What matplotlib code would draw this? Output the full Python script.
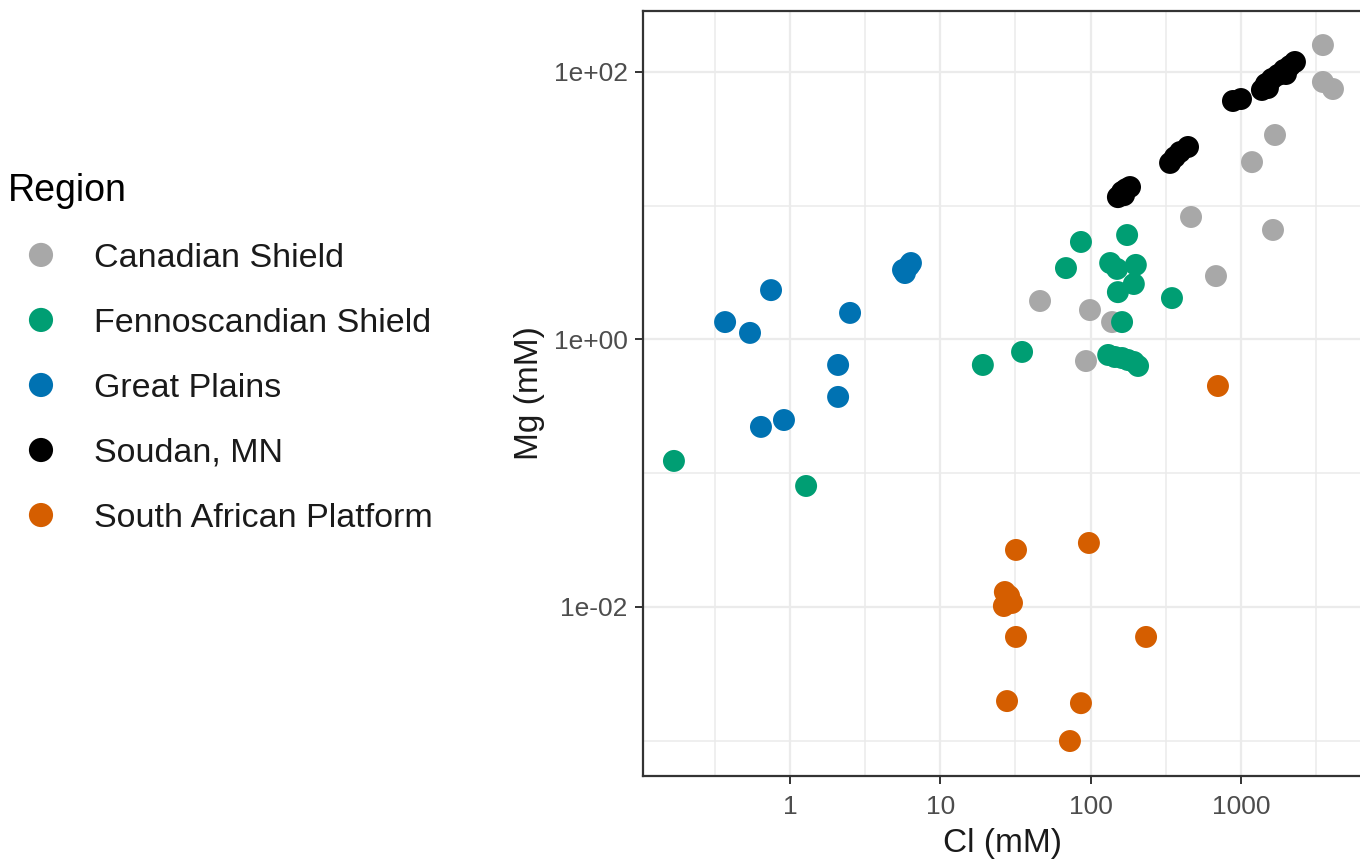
import matplotlib
matplotlib.use("Agg")
import matplotlib.pyplot as plt
from matplotlib.ticker import FixedLocator, FixedFormatter, NullFormatter

plt.rcParams['font.family'] = ['Liberation Sans', 'DejaVu Sans']

regions = ["Canadian Shield", "Fennoscandian Shield", "Great Plains",
           "Soudan, MN", "South African Platform"]
colors = ["#A8A8A8", "#009E73", "#0072B2", "#000000", "#D55E00"]

canadian_cl = [3516, 3516, 4100, 1687, 1186, 466, 1636, 683, 46.1, 99.1, 139, 93.2]
canadian_mg = [159, 84.2, 74.6, 33.8, 21.2, 8.24, 6.59, 2.98, 1.94, 1.66, 1.35, 0.69]

fenno_cl = [86.3, 175, 68.6, 135, 150, 200, 194, 152, 348, 162, 35.0, 19.2,
            131, 145, 162, 177, 194, 207, 0.169, 1.28]
fenno_mg = [5.36, 6.04, 3.42, 3.73, 3.37, 3.61, 2.60, 2.26, 2.04, 1.35, 0.807, 0.645,
            0.766, 0.740, 0.727, 0.703, 0.679, 0.634, 0.1236, 0.0803]

plains_cl = [0.370, 0.542, 0.748, 2.51, 2.09, 2.09, 0.641, 0.912, 5.82, 6.19, 6.38, 5.65]
plains_mg = [1.35, 1.12, 2.34, 1.58, 0.645, 0.372, 0.222, 0.250, 3.14, 3.55, 3.73, 3.31]

soudan_cl = [152, 162, 172, 183, 167, 338, 364, 394, 445, 886, 1002,
             1381, 1469, 1610, 1766, 1936, 2123, 2290, 1514, 1995]
soudan_mg = [11.6, 12.7, 13.3, 13.8, 12.0, 20.9, 23.1, 25.2, 27.5, 60.7, 62.8,
             73.4, 81.3, 88.7, 95.0, 103.5, 110.9, 118.8, 75.9, 96.6]

safrica_cl = [704, 31.9, 97.5, 26.9, 27.8, 30.0, 26.5, 28.7, 31.9, 234, 27.8, 86.3, 72.9]
safrica_mg = [0.449, 0.0267, 0.0301, 0.01294, 0.01148, 0.01072, 0.01017, 0.01208,
              0.00597, 0.00597, 0.00198, 0.00191, 0.000995]

x_ticks = [1, 10, 100, 1000]
x_tick_labels = ["1", "10", "100", "1000"]
x_minor = [10 ** -0.5, 10 ** 0.5, 10 ** 1.5, 10 ** 2.5, 10 ** 3.5]
y_ticks = [1e-2, 1e0, 1e2]
y_tick_labels = ["1e-02", "1e+00", "1e+02"]
y_minor = [1e-3, 1e-1, 1e1]

series = [(canadian_cl, canadian_mg), (fenno_cl, fenno_mg), (plains_cl, plains_mg),
          (soudan_cl, soudan_mg), (safrica_cl, safrica_mg)]

fig = plt.figure(figsize=(13.6, 8.6), dpi=100)
W, H = 1360, 860
ax = fig.add_axes([643 / W, 1 - 776 / H, 719 / W, 765 / H])
ax.set_xscale("log")
ax.set_yscale("log")
ax.set_xlim(0.1052, 6397)
ax.set_ylim(5.45e-4, 285.8)

handles = []
for (xs, ys), c, lab in zip(series, colors, regions):
    h = ax.scatter(xs, ys, s=250, color=c, edgecolors="none", label=lab, zorder=3)
    handles.append(h)

ax.xaxis.set_major_locator(FixedLocator(x_ticks))
ax.xaxis.set_major_formatter(FixedFormatter(x_tick_labels))
ax.xaxis.set_minor_locator(FixedLocator(x_minor))
ax.xaxis.set_minor_formatter(NullFormatter())
ax.yaxis.set_major_locator(FixedLocator(y_ticks))
ax.yaxis.set_major_formatter(FixedFormatter(y_tick_labels))
ax.yaxis.set_minor_locator(FixedLocator(y_minor))
ax.yaxis.set_minor_formatter(NullFormatter())

ax.grid(True, which="major", color="#EBEBEB", linewidth=1.6, zorder=0)
ax.grid(True, which="minor", color="#EBEBEB", linewidth=1.1, zorder=0)
ax.set_axisbelow(True)

for side in ["left", "bottom", "top", "right"]:
    ax.spines[side].set_color("#333333")
    ax.spines[side].set_linewidth(1.6)

ax.tick_params(axis="both", which="major", length=6, width=1.4, color="#333333",
               labelsize=19, labelcolor="#4D4D4D")
ax.tick_params(axis="x", which="major", pad=7.5)
ax.tick_params(axis="y", which="major", pad=5)
ax.tick_params(axis="both", which="minor", length=0)

ax.set_xlabel("Cl (mM)", fontsize=24, color="#1A1A1A", labelpad=7)
ax.set_ylabel("Mg (mM)", fontsize=24, color="#1A1A1A", labelpad=6)

leg = fig.legend(handles=handles, labels=regions, loc="upper left",
                 bbox_to_anchor=(1 / W, 1 - 166 / H), frameon=False,
                 title="Region", fontsize=24.5, title_fontsize=27,
                 handlelength=1.95, handletextpad=0.58, labelspacing=1.0,
                 borderpad=0.2, borderaxespad=0.0,
                 markerscale=1.1, alignment="left", scatteryoffsets=[0.5])
for t in leg.get_texts():
    t.set_color("#1A1A1A")

fig.savefig("out.png", dpi=100)
